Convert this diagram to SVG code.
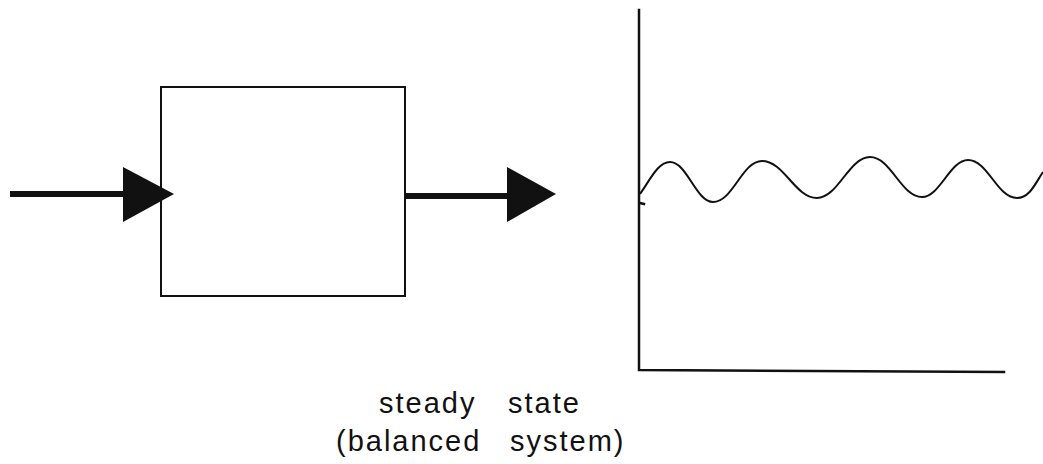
<svg xmlns="http://www.w3.org/2000/svg" width="1043" height="464" viewBox="0 0 1043 464">
  <style>
    .box { fill: none; stroke: #111; stroke-width: 2; }
    .shaft { stroke: #111; stroke-width: 6; fill: none; }
    .head { fill: #111; stroke: none; }
    .axis { stroke: #111; stroke-width: 2.5; fill: none; stroke-linecap: square; }
    .wave { stroke: #111; stroke-width: 2; fill: none; stroke-linejoin: round; }
    .label { font-family: "Liberation Sans", Arial, sans-serif; font-size: 29px; letter-spacing: 2px; fill: #111; }
  </style>
  <rect width="1043" height="464" fill="#ffffff"/>
  <g id="system-box">
    <rect class="box" x="161" y="87" width="244" height="209"/>
  </g>
  <g id="graph">
    <polyline class="axis" points="639,10 639,370 1004,372"/>
    <line class="axis" x1="640" y1="203" x2="644" y2="204" stroke-width="2"/>
    <path class="wave" d="M640,194 C650,180 658,162 670,162 C687,162 696,202 713,202 C733,202 742,161 762,161 C784,161 795,198 817,198 C838,198 849,157 870,157 C891,157 901,197 922,197 C940,197 950,160 968,160 C988,160 997,198 1017,198 C1030,198 1036,182 1043,172"/>
  </g>
  <g id="connectors">
    <line class="shaft" x1="10" y1="194" x2="126" y2="194"/>
    <polygon class="head" points="123,167 174,194 123,222"/>
    <line class="shaft" x1="405" y1="196" x2="510" y2="196"/>
    <polygon class="head" points="507,167 556,194 507,222"/>
  </g>
  <g id="caption">
    <text class="label" y="413"><tspan x="379">steady</tspan><tspan x="508">state</tspan></text>
    <text class="label" y="451"><tspan x="336">(balanced</tspan><tspan x="510">system)</tspan></text>
  </g>
</svg>
